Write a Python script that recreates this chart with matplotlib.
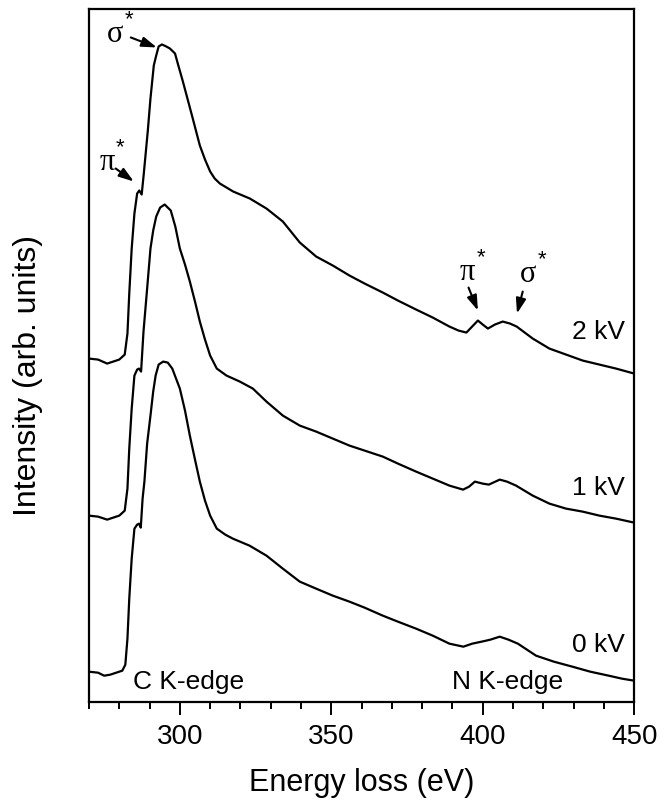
import matplotlib
matplotlib.use("Agg")
import matplotlib.pyplot as plt
from matplotlib.ticker import MultipleLocator

plt.rcParams['font.family'] = ['Liberation Sans', 'DejaVu Sans']

# energy (eV) and stacked intensity (arb. units)
e_0kv = [270, 273, 275, 277, 279, 281, 282, 282.7, 283.3, 284.1, 285, 285.9, 286.5,
         287.1, 287.7, 288.3, 289.2, 290.3, 291.2, 292, 293, 294.5, 296, 297.5, 299, 300,
         301.7, 303.3, 305, 306.6, 308.3, 310, 312.2, 315, 317.5, 323, 328.6, 334, 339.6,
         345, 350.5, 356, 361, 367, 372, 378, 383.5, 389, 393.6, 396.5, 399.6, 402.5,
         405.6, 408.5, 411.6, 417.6, 423.5, 429.6, 435.5, 441.6, 446, 450]
i_0kv = [30, 29, 26, 27, 29, 31, 37, 63, 103, 143, 173, 177, 178,
         174, 203, 220, 258, 286, 310, 326, 337, 340, 339, 333, 321, 313,
         291, 266, 242, 220, 201, 186, 173, 167, 163, 156, 146, 133, 120,
         113, 106, 100, 94, 86, 80, 73, 66, 58, 55, 58, 60, 62,
         65, 62, 58, 46, 40, 35, 30, 26, 23, 21]

e_1kv = [270, 273, 276, 278, 280, 281.8, 282.7, 283.3, 284.1, 285, 285.9, 286.5, 287.2,
         288, 289.2, 290.3, 291.2, 292.2, 293.5, 295, 297, 298.5, 300, 301.7, 303.3, 305,
         306.6, 308.3, 310, 312.2, 315.4, 319.8, 324.1, 328.6, 334, 339.6, 345, 350.5,
         356, 361, 367, 372, 378, 383.5, 389, 393.5, 395.5, 397.4, 400, 402, 405.6,
         408, 411, 416.5, 422, 427.5, 433, 438.5, 444, 450]
i_1kv = [186, 185, 182, 184, 186, 191, 213, 253, 293, 326, 332, 333, 330,
         370, 413, 453, 471, 485, 494, 497, 491, 475, 453, 437, 420, 400,
         380, 362, 346, 333, 326, 320, 313, 300, 286, 276, 270, 263,
         256, 251, 245, 238, 230, 223, 216, 212, 215, 220, 218, 217, 222,
         220, 216, 206, 198, 193, 190, 186, 183, 179]

e_2kv = [270, 273, 276, 278, 280, 281.8, 282.7, 283.3, 284.1, 285, 285.9, 286.6, 287.4,
         288.1, 289.4, 290.3, 291.4, 292.2, 293, 294.1, 295.5, 296.7, 298.4, 299.5, 301,
         302.5, 304, 305.3, 306.6, 308.3, 310, 311.5, 313.2, 317.6, 323.1, 328.6, 334,
         339.6, 345, 350.5, 356, 361, 367, 372, 378, 383.5, 389, 392, 394.6, 396.5,
         398.4, 400, 401.7, 404, 406.6, 409, 411.2, 416.5, 422, 427.5, 433, 438.5,
         444, 450]
i_2kv = [343, 342, 338, 340, 342, 347, 368, 408, 453, 488, 508, 511, 507,
         528, 570, 603, 636, 646, 655, 657, 655, 653, 648, 636, 620,
         603, 586, 571, 556, 542, 530, 523, 518, 510, 503, 493, 480,
         459, 445, 436, 426, 418, 409, 401, 392, 384, 375, 371, 369, 375,
         381, 377, 373, 377, 380, 378, 375, 363, 353, 347, 341, 337,
         333, 328]

voltages = ["0 kV", "1 kV", "2 kV"]
label_y = [58, 215, 371]

fig = plt.figure(figsize=(6.69, 8.04), dpi=100)
ax = fig.add_axes([0.133, 0.126, 0.815, 0.861])

for e, i in [(e_0kv, i_0kv), (e_1kv, i_1kv), (e_2kv, i_2kv)]:
    ax.plot(e, i, color='black', lw=1.6)

for lab, y in zip(voltages, label_y):
    ax.text(447, y, lab, fontsize=19, ha='right', va='center')

ax.text(284.5, 21, "C K-edge", fontsize=19, ha='left', va='center')
ax.text(390, 21, "N K-edge", fontsize=19, ha='left', va='center')

# peak markers: (symbol, label x, label y, tail x, tail y, tip x, tip y)
marks = [
    ("σ", 278.6, 668, 283.8, 664, 292.4, 654),
    ("π", 275.9, 540, 278.8, 533, 284.8, 520),
    ("π", 394.8, 430, 395.3, 414, 398.4, 391),
    ("σ", 414.9, 428, 413.2, 410, 411.3, 388),
]
for sym, lx, ly, tx, ty, px, py in marks:
    ax.text(lx, ly, sym, fontsize=22, family='Liberation Serif',
            ha='center', va='center')
    ax.text(lx + 4.5, ly + 15, "*", fontsize=16, ha='center', va='center')
    ax.annotate("", xy=(px, py), xytext=(tx, ty),
                arrowprops=dict(arrowstyle='-|>,head_length=0.9,head_width=0.3',
                                color='black', lw=1.5, mutation_scale=10,
                                shrinkA=0, shrinkB=0))

ax.set_xlim(270, 450)
ax.set_ylim(0, 692)
ax.xaxis.set_major_locator(MultipleLocator(50))
ax.xaxis.set_minor_locator(MultipleLocator(10))
ax.set_xticks([300, 350, 400, 450])
ax.set_yticks([])
ax.tick_params(axis='x', which='major', direction='out', length=9, width=1.4,
               labelsize=20, pad=6)
ax.tick_params(axis='x', which='minor', direction='out', length=5, width=1.4)
for s in ax.spines.values():
    s.set_linewidth(1.6)

ax.set_xlabel("Energy loss (eV)", fontsize=22, labelpad=13)
ax.set_ylabel("Intensity (arb. units)", fontsize=23)
ax.yaxis.set_label_coords(-0.085, 0.4725)

fig.savefig("out.png", dpi=100)
